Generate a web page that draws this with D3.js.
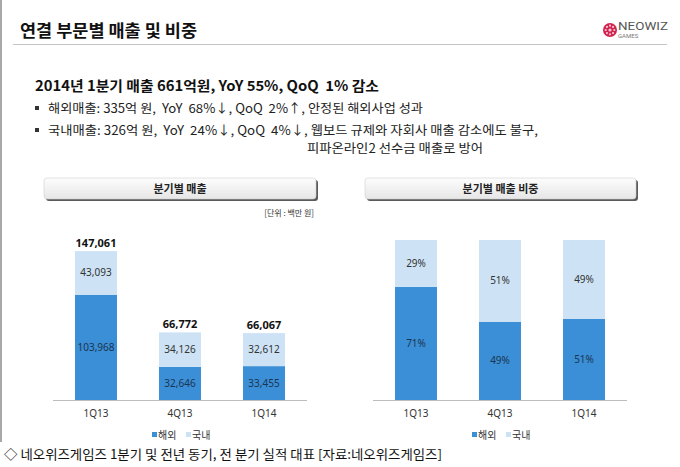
<!DOCTYPE html>
<html>
<head>
<meta charset="utf-8">
<script src="https://cdn.jsdelivr.net/npm/d3@7"></script>
<style>
    body { margin: 0; background: #fff; }
    svg { display: block; font-family: "Noto Sans CJK KR", "Noto Sans", sans-serif; }
    text { white-space: pre; }
</style>
</head>
<body>
<svg id="chart" width="680" height="467"></svg>
<script>
var quarters = ["1Q13", "4Q13", "1Q14"];
var overseas = [103968, 32646, 33455];
var domestic = [43093, 34126, 32612];
var totals = [147061, 66772, 66067];
var seriesNames = ["해외", "국내"];
var seriesColors = ["#3a8fd6", "#cde3f5"];

var svg = d3.select("#chart");

// slide frame
svg.append("rect").attr("x", 0).attr("y", 0).attr("width", 2).attr("height", 442).attr("fill", "#a8a8a8");
svg.append("line").attr("x1", 13).attr("x2", 667).attr("y1", 44.5).attr("y2", 44.5)
    .attr("stroke", "#c4c4c4").attr("stroke-width", 1);

svg.append("text").attr("x", 20).attr("y", 37)
    .attr("font-size", 16.5).attr("font-weight", "bold").attr("fill", "#111")
    .attr("textLength", 177).attr("lengthAdjust", "spacingAndGlyphs")
    .text("연결 부문별 매출 및 비중");

// logo
var logo = svg.append("g").attr("transform", "translate(610,30)");
logo.append("circle").attr("r", 7).attr("fill", "#d2234f");
d3.range(8).forEach(function (i) {
    var a = i * Math.PI / 4;
    logo.append("circle").attr("cx", 4.3 * Math.cos(a)).attr("cy", 4.3 * Math.sin(a))
        .attr("r", 1.1).attr("fill", "#f6c6d2");
});
logo.append("circle").attr("r", 1.6).attr("fill", "#f6c6d2");
svg.append("text").attr("x", 618).attr("y", 30).attr("font-size", 10.5).attr("fill", "#555")
    .attr("font-family", "Roboto, sans-serif").attr("textLength", 50).attr("lengthAdjust", "spacingAndGlyphs")
    .text("NEOWIZ");
svg.append("text").attr("x", 618).attr("y", 38).attr("font-size", 6).attr("fill", "#777")
    .attr("font-family", "Roboto, sans-serif").text("GAMES");

// summary text
svg.append("text").attr("x", 35).attr("y", 91)
    .attr("font-size", 14).attr("font-weight", "bold").attr("fill", "#111")
    .attr("textLength", 344).attr("lengthAdjust", "spacingAndGlyphs")
    .text("2014년 1분기 매출 661억원, YoY 55%, QoQ  1% 감소");

var bullets = [
    {x: 48, y: 112.5, w: 375, b: true, t: "해외매출: 335억 원,  YoY  68%↓, QoQ  2%↑, 안정된 해외사업 성과"},
    {x: 48, y: 134.5, w: 490, b: true, t: "국내매출: 326억 원,  YoY  24%↓, QoQ  4%↓, 웹보드 규제와 자회사 매출 감소에도 불구,"},
    {x: 307, y: 152.5, w: 176, b: false, t: "피파온라인2 선수금 매출로 방어"}
];
bullets.forEach(function (d) {
    if (d.b) {
        svg.append("rect").attr("x", 35).attr("y", d.y - 6.5).attr("width", 4).attr("height", 4).attr("fill", "#333");
    }
    svg.append("text").attr("x", d.x).attr("y", d.y)
        .attr("font-size", 12.5).attr("fill", "#222")
        .attr("textLength", d.w).attr("lengthAdjust", "spacingAndGlyphs")
        .text(d.t);
});

// gradient for header boxes
var grad = svg.append("defs").append("linearGradient").attr("id", "hdr")
    .attr("x1", 0).attr("x2", 0).attr("y1", 0).attr("y2", 1);
grad.append("stop").attr("offset", "0%").attr("stop-color", "#fdfdfd");
grad.append("stop").attr("offset", "100%").attr("stop-color", "#e6e6e6");

function header(x0, x1, label) {
    svg.append("rect").attr("x", x0 + 2).attr("y", 180).attr("width", x1 - x0).attr("height", 21)
        .attr("rx", 3).attr("fill", "#5a5a5a");
    svg.append("rect").attr("x", x0).attr("y", 178).attr("width", x1 - x0).attr("height", 21)
        .attr("rx", 3).attr("fill", "url(#hdr)").attr("stroke", "#d0d0d0").attr("stroke-width", 0.6);
    svg.append("text").attr("x", (x0 + x1) / 2).attr("y", 192.5).attr("text-anchor", "middle")
        .attr("font-size", 11).attr("font-weight", "bold").attr("fill", "#222").text(label);
}

function legend(cx) {
    var g = svg.append("g").attr("transform", "translate(" + (cx - 30) + ",435)");
    seriesNames.forEach(function (n, i) {
        g.append("rect").attr("x", i * 34).attr("y", -3).attr("width", 5).attr("height", 5)
            .attr("fill", seriesColors[i]);
        g.append("text").attr("x", i * 34 + 6).attr("y", 3.5).attr("font-size", 10)
            .attr("fill", "#333").text(n);
    });
}

function catAxis(x, x0, x1) {
    svg.append("line").attr("x1", x0).attr("x2", x1).attr("y1", 400.5).attr("y2", 400.5)
        .attr("stroke", "#bdbdbd").attr("stroke-width", 1);
    var ax = svg.append("g").attr("transform", "translate(0,400)")
        .call(d3.axisBottom(x).tickSize(0).tickPadding(10));
    ax.select(".domain").remove();
    ax.selectAll("text").attr("font-size", 10).attr("fill", "#333")
        .attr("font-family", "'Noto Sans', sans-serif");
}

var rows = quarters.map(function (q, i) {
    return {q: q, "해외": overseas[i], "국내": domestic[i], total: totals[i]};
});
var fmt = d3.format(",");

// left chart: 분기별 매출
header(44, 316, "분기별 매출");
svg.append("text").attr("x", 314).attr("y", 216).attr("text-anchor", "end")
    .attr("font-size", 8).attr("fill", "#333").text("[단위 : 백만 원]");

var xL = d3.scaleBand().domain(quarters).range([54, 306]).paddingInner(0.5).paddingOuter(0.25);
var yL = d3.scaleLinear().domain([0, 160000]).range([400, 238]);
var stackL = d3.stack().keys(seriesNames)(rows);

var gL = svg.append("g");
stackL.forEach(function (s, si) {
    gL.selectAll(".bl" + si).data(s).enter().append("rect")
        .attr("x", function (d) { return xL(d.data.q); })
        .attr("width", xL.bandwidth())
        .attr("y", function (d) { return yL(d[1]); })
        .attr("height", function (d) { return yL(d[0]) - yL(d[1]); })
        .attr("fill", seriesColors[si]);
    gL.selectAll(".tl" + si).data(s).enter().append("text")
        .attr("x", function (d) { return xL(d.data.q) + xL.bandwidth() / 2; })
        .attr("y", function (d) { return (yL(d[0]) + yL(d[1])) / 2 + 3.5; })
        .attr("text-anchor", "middle").attr("font-size", 10)
        .attr("font-family", "'Noto Sans', sans-serif")
        .attr("fill", si === 0 ? "#1c3552" : "#333")
        .text(function (d) { return fmt(d.data[seriesNames[si]]); });
});
gL.selectAll(".tot").data(rows).enter().append("text")
    .attr("x", function (d) { return xL(d.q) + xL.bandwidth() / 2; })
    .attr("y", function (d) { return yL(d.total) - 4; })
    .attr("text-anchor", "middle").attr("font-size", 11).attr("font-weight", "bold")
    .attr("font-family", "'Noto Sans', sans-serif").attr("fill", "#111")
    .text(function (d) { return fmt(d.total); });
catAxis(xL, 53, 307);
legend(182);

// right chart: 분기별 매출 비중
header(365, 636, "분기별 매출 비중");
var xR = d3.scaleBand().domain(quarters).range([374, 626]).paddingInner(0.5).paddingOuter(0.25);
var yR = d3.scaleLinear().domain([0, 1]).range([400, 240]);
var stackR = d3.stack().keys(seriesNames).offset(d3.stackOffsetExpand)(rows);
var pct = d3.format(".0%");

var gR = svg.append("g");
stackR.forEach(function (s, si) {
    gR.selectAll(".br" + si).data(s).enter().append("rect")
        .attr("x", function (d) { return xR(d.data.q); })
        .attr("width", xR.bandwidth())
        .attr("y", function (d) { return yR(d[1]); })
        .attr("height", function (d) { return yR(d[0]) - yR(d[1]); })
        .attr("fill", seriesColors[si]);
    gR.selectAll(".tr" + si).data(s).enter().append("text")
        .attr("x", function (d) { return xR(d.data.q) + xR.bandwidth() / 2; })
        .attr("y", function (d) { return (yR(d[0]) + yR(d[1])) / 2 + 3.5; })
        .attr("text-anchor", "middle").attr("font-size", 10)
        .attr("font-family", "'Noto Sans', sans-serif")
        .attr("fill", si === 0 ? "#1c3552" : "#333")
        .text(function (d) { return pct(d[1] - d[0]); });
});
catAxis(xR, 373, 627);
legend(502);

// caption
svg.append("text").attr("x", 4).attr("y", 459)
    .attr("font-size", 13).attr("fill", "#111")
    .attr("textLength", 438).attr("lengthAdjust", "spacingAndGlyphs")
    .text("◇ 네오위즈게임즈 1분기 및 전년 동기, 전 분기 실적 대표 [자료:네오위즈게임즈]");
</script>
</body>
</html>
